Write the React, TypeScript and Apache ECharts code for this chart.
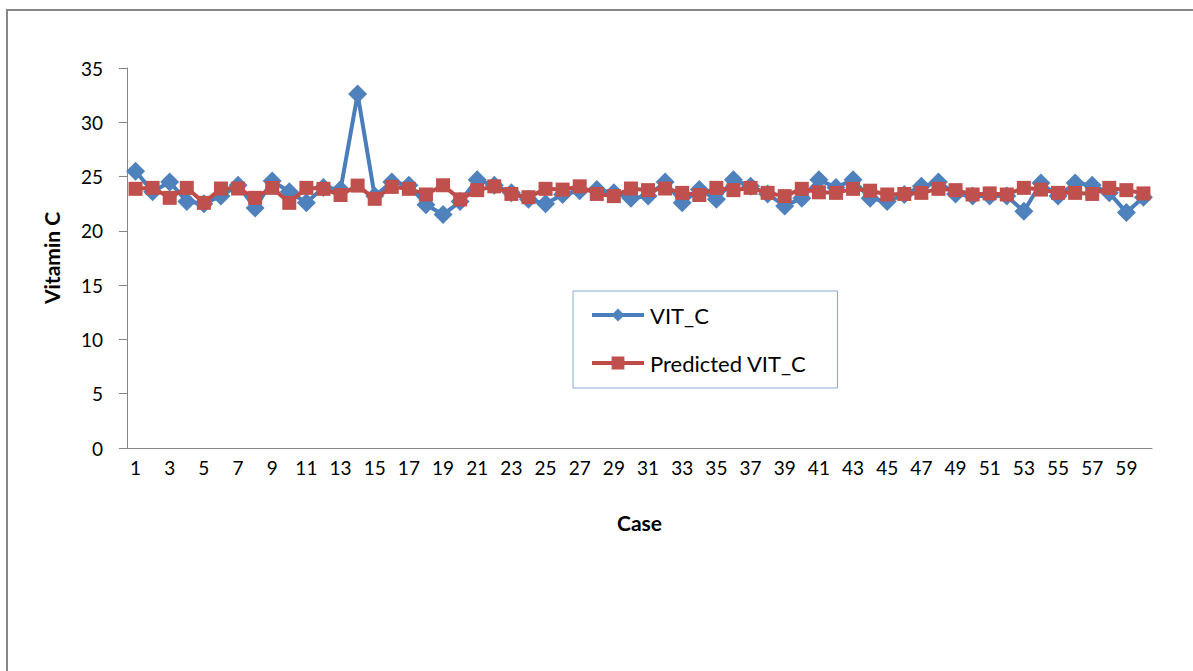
import React, { useEffect, useRef } from "react";
import * as echarts from "echarts";

const categories = [
  "1","2","3","4","5","6","7","8","9","10",
  "11","12","13","14","15","16","17","18","19","20",
  "21","22","23","24","25","26","27","28","29","30",
  "31","32","33","34","35","36","37","38","39","40",
  "41","42","43","44","45","46","47","48","49","50",
  "51","52","53","54","55","56","57","58","59","60",
];

const vitC = [
  25.5, 23.6, 24.5, 22.7, 22.5, 23.2, 24.2, 22.1, 24.6, 23.6,
  22.6, 24.0, 23.8, 32.6, 23.2, 24.5, 24.2, 22.4, 21.5, 22.7,
  24.7, 24.2, 23.5, 22.9, 22.5, 23.35, 23.7, 23.8, 23.5, 23.0,
  23.2, 24.5, 22.6, 23.8, 22.9, 24.7, 24.1, 23.4, 22.3, 23.0,
  24.7, 24.0, 24.7, 23.0, 22.7, 23.35, 24.1, 24.5, 23.4, 23.2,
  23.2, 23.2, 21.8, 24.4, 23.2, 24.4, 24.2, 23.5, 21.7, 23.1,
];

const predictedVitC = [
  23.87, 23.96, 23.04, 23.96, 22.58, 23.9, 23.9, 23.04, 23.96, 22.58,
  23.96, 23.87, 23.3, 24.17, 22.95, 24.05, 23.87, 23.35, 24.2, 22.9,
  23.75, 24.1, 23.4, 23.1, 23.87, 23.8, 24.1, 23.4, 23.2, 23.9,
  23.75, 23.9, 23.5, 23.3, 23.96, 23.75, 23.96, 23.5, 23.2, 23.87,
  23.55, 23.5, 23.87, 23.7, 23.35, 23.4, 23.5, 23.87, 23.75, 23.35,
  23.45, 23.35, 23.96, 23.8, 23.5, 23.5, 23.4, 23.96, 23.75, 23.45,
];

const seriesNames = ["VIT_C", "Predicted VIT_C"];
const xAxisTitle = "Case";
const yAxisTitle = "Vitamin C";

const FONT = "Lato, 'Open Sans', sans-serif";

export default function App() {
  const ref = useRef<HTMLDivElement>(null);

  useEffect(() => {
    if (!ref.current) return;
    const chart = echarts.init(ref.current, undefined, { renderer: "svg" });
    chart.setOption({
      animation: false,
      backgroundColor: "#ffffff",
      textStyle: { fontFamily: FONT },
      graphic: [
        {
          type: "polyline",
          shape: { points: [[7, 671], [7, 10], [1193, 10]] },
          style: { stroke: "#868686", lineWidth: 2, fill: "none" },
          silent: true,
        },
      ],
      grid: { left: 127, right: 41, top: 68, bottom: 223, containLabel: false },
      legend: {
        orient: "vertical",
        left: 573,
        top: 291,
        padding: [13, 31, 14, 17],
        itemGap: 26,
        itemWidth: 52,
        itemHeight: 16,
        borderColor: "#86a8d6",
        borderWidth: 1,
        backgroundColor: "#ffffff",
        lineStyle: { width: 4 },
        textStyle: { fontSize: 22, color: "#000", fontFamily: FONT, padding: [0, 0, 0, 1] },
        data: seriesNames,
      },
      xAxis: {
        type: "category",
        data: categories,
        boundaryGap: true,
        name: xAxisTitle,
        nameLocation: "middle",
        nameGap: 64,
        nameTextStyle: { fontSize: 21, fontWeight: "bold", color: "#000", fontFamily: FONT },
        axisLine: { show: true, lineStyle: { color: "#868686", width: 1 } },
        axisTick: { show: false },
        axisLabel: { interval: 1, fontSize: 19, color: "#000", margin: 10, fontFamily: FONT },
        splitLine: { show: false },
      },
      yAxis: {
        type: "value",
        min: 0,
        max: 35,
        interval: 5,
        name: yAxisTitle,
        nameLocation: "middle",
        nameGap: 65,
        nameTextStyle: { fontSize: 21, fontWeight: "bold", color: "#000", fontFamily: FONT },
        axisLine: { show: true, lineStyle: { color: "#868686", width: 1 } },
        axisTick: { show: true, length: 8, lineStyle: { color: "#868686" } },
        axisLabel: { fontSize: 19, color: "#000", margin: 24, fontFamily: FONT },
        splitLine: { show: false },
      },
      series: [
        {
          name: seriesNames[0],
          type: "line",
          data: vitC,
          symbol: "diamond",
          symbolSize: 19,
          showAllSymbol: true,
          lineStyle: { color: "#4a7ebb", width: 4 },
          itemStyle: { color: "#4f81bd" },
          z: 2,
        },
        {
          name: seriesNames[1],
          type: "line",
          data: predictedVitC,
          symbol: "rect",
          symbolSize: 14,
          showAllSymbol: true,
          lineStyle: { color: "#be4b48", width: 4 },
          itemStyle: { color: "#c0504d" },
          z: 3,
        },
      ],
    });
    return () => chart.dispose();
  }, []);

  return (
    <div
      ref={ref}
      style={{ position: "fixed", left: 0, top: 0, width: 1193, height: 671, background: "#fff" }}
    />
  );
}
